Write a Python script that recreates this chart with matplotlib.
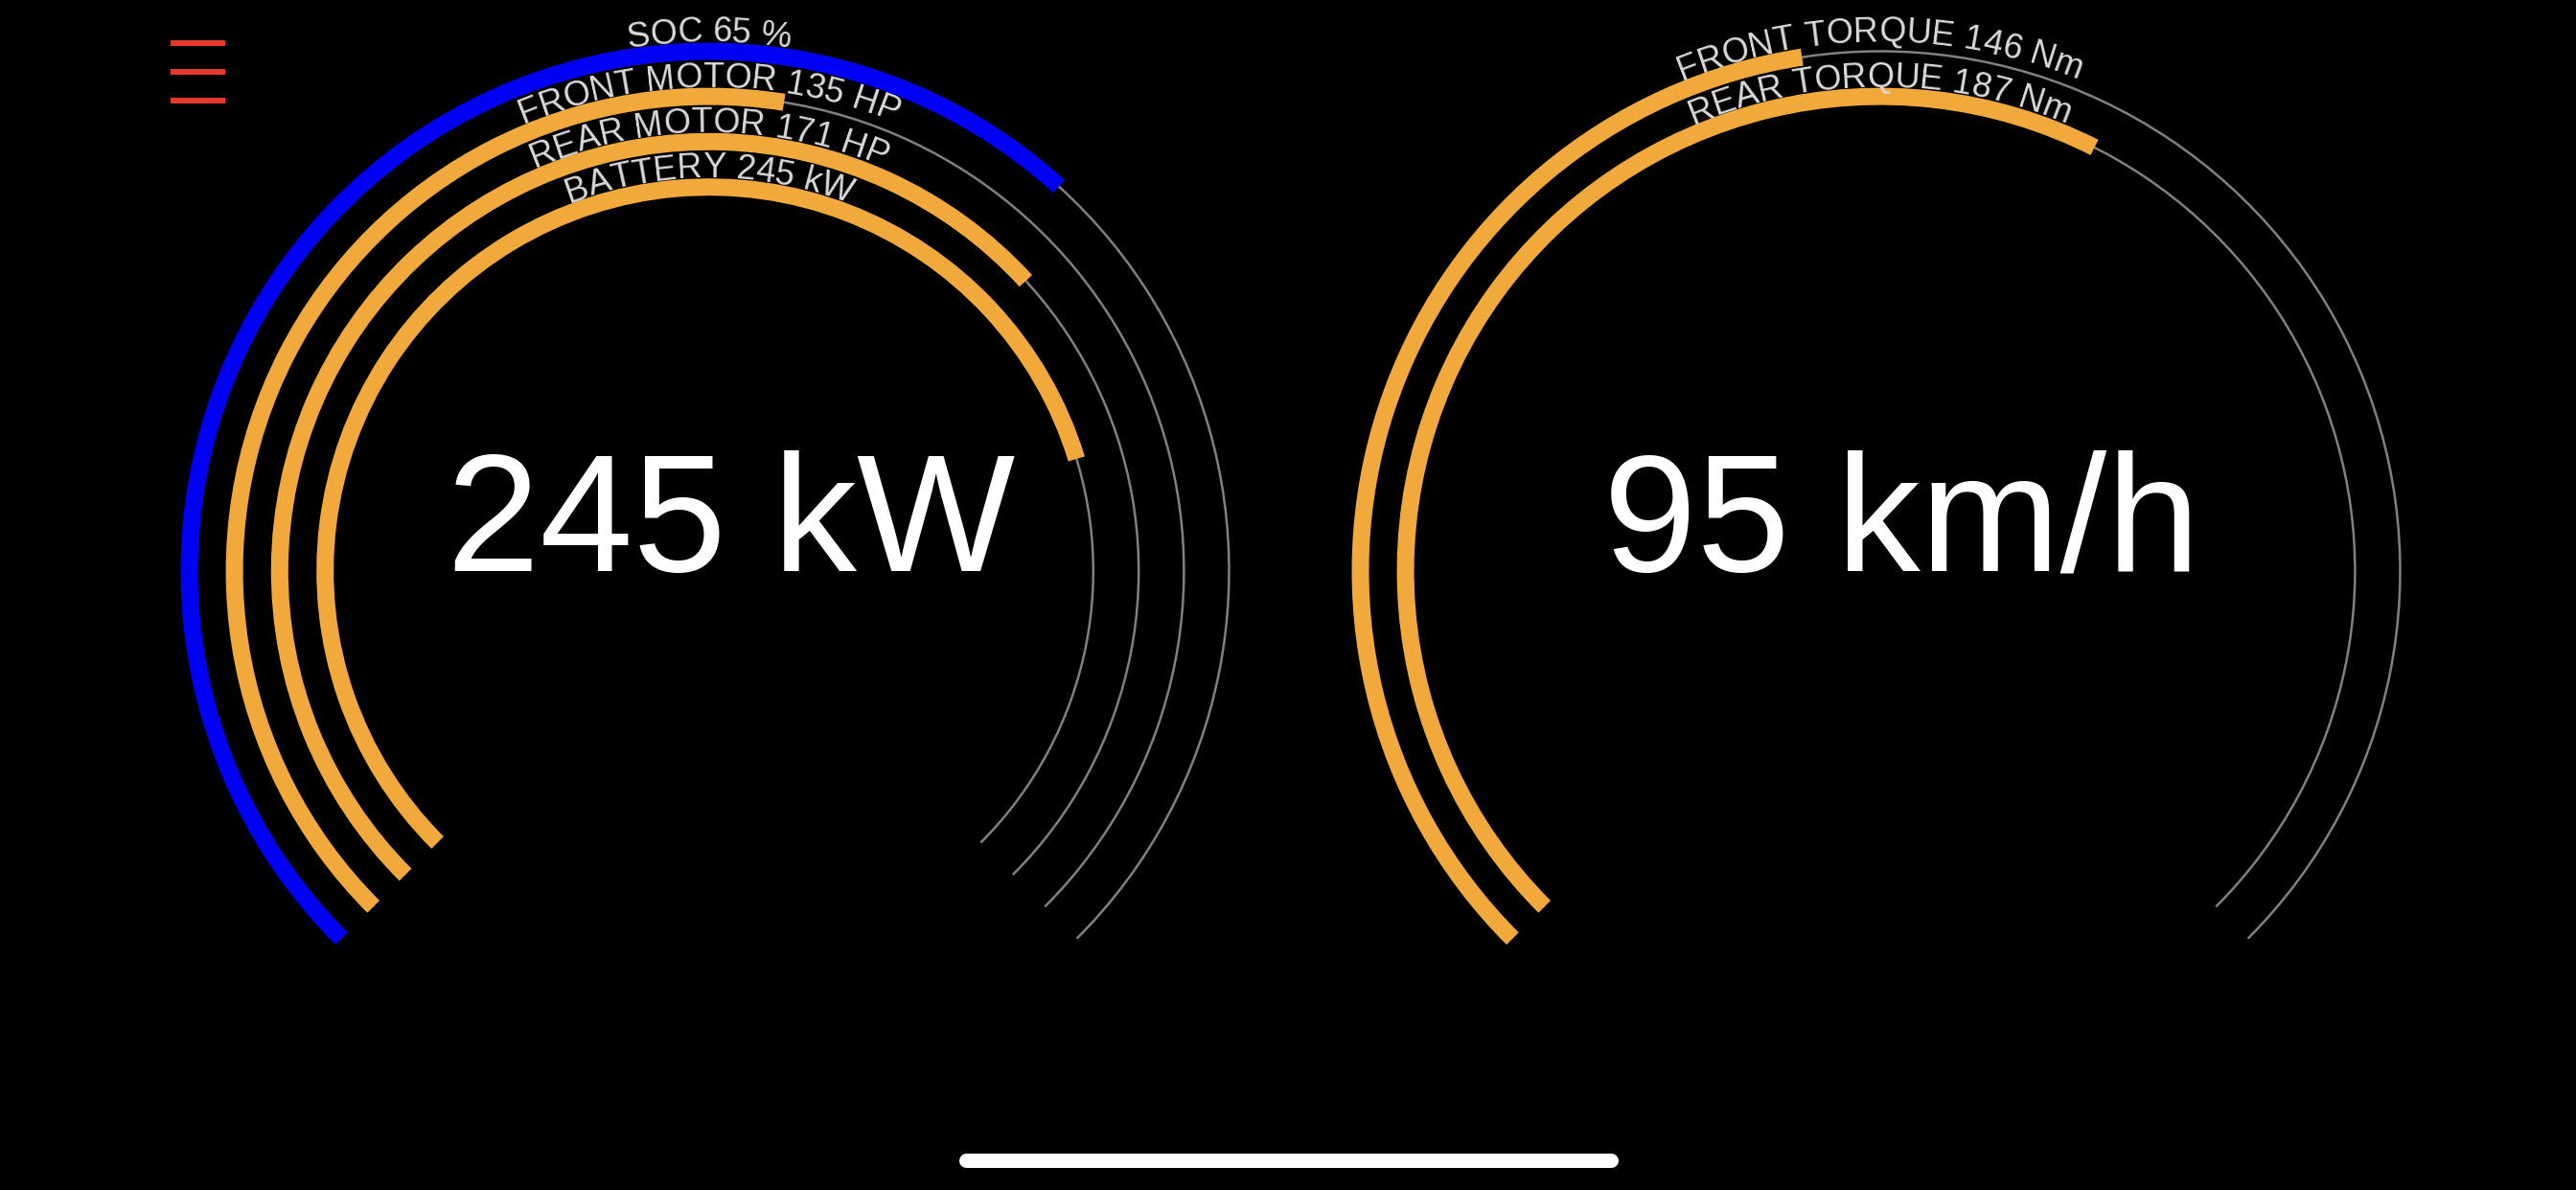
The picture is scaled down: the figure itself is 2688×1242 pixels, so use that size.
import numpy as np
import matplotlib
matplotlib.use("Agg")
import matplotlib.pyplot as plt
from matplotlib.patches import Wedge, Arc
from matplotlib import font_manager, ft2font
from matplotlib.font_manager import FontProperties

# ---------------- data ----------------
power_labels = ["SOC", "FRONT MOTOR", "REAR MOTOR", "BATTERY"]
power_values = [65, 135, 171, 245]
power_units = ["%", "HP", "HP", "kW"]
power_max = [99, 253, 253, 318]
power_colors = ["#0000F2", "#F2A93B", "#F2A93B", "#F2A93B"]

torque_labels = ["FRONT TORQUE", "REAR TORQUE"]
torque_values = [146, 187]
torque_units = ["Nm", "Nm"]
torque_max = [312, 312]
torque_colors = ["#F2A93B", "#F2A93B"]

power_readout = 245
power_readout_unit = "kW"
speed_readout = 95
speed_unit = "km/h"

# ---------------- layout ----------------
W_PX, H_PX, DPI = 2688, 1242, 100
FAMILY = "Liberation Sans"
CY = H_PX - 596
CX_LEFT, CX_RIGHT = 740, 1962
RADII = [542.5, 495.4, 448.2, 400.8]
BAND = 18
START, SWEEP = 225.0, 270.0
LABEL_PX = 36
BIG_PX = 175
LABEL_COLOR = "#DADADA"
TRACK_COLOR = "#808080"

fig = plt.figure(figsize=(W_PX / DPI, H_PX / DPI), dpi=DPI)
fig.patch.set_facecolor("black")
ax = fig.add_axes([0, 0, 1, 1])
ax.set_facecolor("black")
ax.set_xlim(0, W_PX)
ax.set_ylim(0, H_PX)
ax.axis("off")

font_path = font_manager.findfont(FontProperties(family=FAMILY))


def advances(s, size_px):
    font = ft2font.FT2Font(font_path)
    font.set_size(size_px, 72)
    try:
        flags = ft2font.LoadFlags.NO_HINTING
    except AttributeError:
        flags = ft2font.LOAD_NO_HINTING
    out = []
    for c in s:
        g = font.load_char(ord(c), flags=flags)
        out.append(g.linearHoriAdvance / 65536)
    return out


def curved_label(text, cx, cy, R, size_px, color):
    adv = np.array(advances(text, size_px))
    total = adv.sum()
    pos = np.concatenate([[0], np.cumsum(adv)[:-1]]) + adv / 2 - total / 2
    for c, p in zip(text, pos):
        if c == " ":
            continue
        th = np.pi / 2 - p / R
        ax.text(cx + R * np.cos(th), cy + R * np.sin(th), c,
                rotation=np.degrees(th) - 90, rotation_mode="anchor",
                ha="center", va="baseline", fontsize=size_px * 72 / DPI,
                color=color, family=FAMILY)


def gauge(cx, labels, values, units, maxes, colors):
    for i, (lab, v, u, m, col) in enumerate(zip(labels, values, units, maxes, colors)):
        r = RADII[i]
        ax.add_patch(Arc((cx, CY), 2 * r, 2 * r, theta1=START - SWEEP, theta2=START,
                         color=TRACK_COLOR, lw=1.8))
        frac = v / m
        ax.add_patch(Wedge((cx, CY), r + BAND / 2, START - frac * SWEEP, START,
                           width=BAND, facecolor=col, edgecolor="none"))
        curved_label(f"{lab} {v} {u}", cx, CY, r + BAND / 2 + 1, LABEL_PX, LABEL_COLOR)


gauge(CX_LEFT, power_labels, power_values, power_units, power_max, power_colors)
gauge(CX_RIGHT, torque_labels, torque_values, torque_units, torque_max, torque_colors)

ax.text(CX_LEFT + 23, CY, f"{power_readout} {power_readout_unit}", ha="center",
        va="baseline", fontsize=BIG_PX * 72 / DPI, color="white", family=FAMILY)
ax.text(CX_RIGHT + 22, CY, f"{speed_readout} {speed_unit}", ha="center",
        va="baseline", fontsize=BIG_PX * 72 / DPI, color="white", family=FAMILY)

# hamburger menu icon
for yy in [45, 75, 105]:
    ax.plot([178, 235], [H_PX - yy, H_PX - yy], color="#E5392B", lw=6 * 72 / DPI,
            solid_capstyle="butt")

# home indicator
ax.plot([1007.5, 1680.5], [H_PX - 1210.5] * 2, color="white", lw=15 * 72 / DPI,
        solid_capstyle="round")

fig.savefig("out.png", dpi=DPI, facecolor="black")
